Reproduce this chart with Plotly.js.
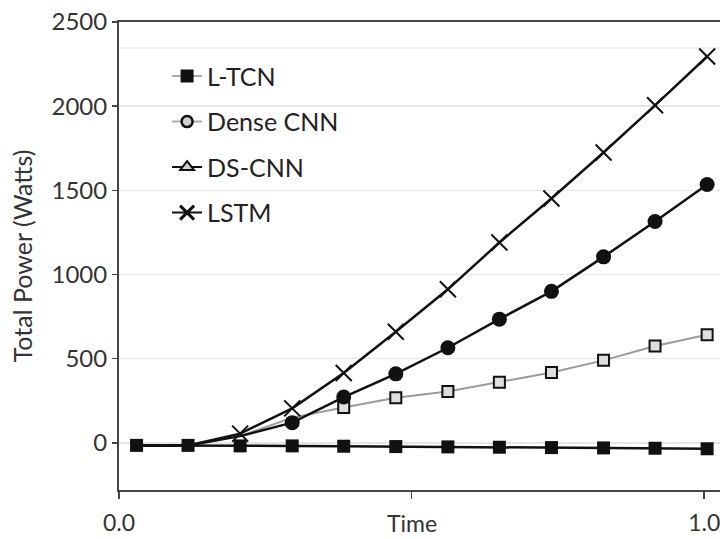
<!DOCTYPE html>
<html>
<head>
<meta charset="utf-8">
<script src="https://cdn.plot.ly/plotly-3.0.1.min.js"></script>
<style>html,body{margin:0;padding:0;background:#fff;}#chart{width:720px;height:539px;}</style>
</head>
<body>
<div id="chart"></div>
<script>
// Data
const timeSteps = [0.03, 0.118, 0.207, 0.296, 0.384, 0.473, 0.562, 0.650, 0.739, 0.828, 0.916, 1.005];
const ltcnPower = [-15, -15, -18, -18, -20, -22, -24, -26, -28, -30, -32, -35];
const denseCnnPower = [-15, -15, 40, 120, 272, 410, 565, 735, 900, 1105, 1315, 1535];
const dsCnnPower = [null, null, 40, 150, 210, 268, 305, 360, 418, 490, 575, 642];
const lstmPower = [-15, -15, 55, 205, 415, 660, 912, 1190, 1452, 1725, 2005, 2295];
const seriesNames = ["L-TCN", "Dense CNN", "DS-CNN", "LSTM"];
const yTicks = [0, 500, 1000, 1500, 2000, 2500];
const xTickVals = [0, 0.5, 1.0];
const xTickText = ["0.0", "", "1.0"];

const FONT = "Lato, 'Open Sans', sans-serif";
// markers hidden where a series is covered by the flat L-TCN line / the circles
const hideFirst = (arr, n) => arr.map((v, i) => (i < n ? 0 : 1));

const traces = [
  {
    x: timeSteps, y: dsCnnPower, name: seriesNames[2], mode: "lines+markers",
    line: {color: "#9a9a9a", width: 2},
    marker: {symbol: "square", size: 11, color: "#dedede", opacity: hideFirst(dsCnnPower, 4), line: {color: "#111", width: 2}},
    showlegend: false, legendgroup: "g3"
  },
  {
    x: timeSteps, y: lstmPower, name: seriesNames[3], mode: "lines+markers",
    line: {color: "#111", width: 2.5},
    marker: {symbol: "x-thin-open", size: 16, color: "#111", opacity: hideFirst(lstmPower, 2), line: {color: "#111", width: 2}},
    showlegend: false, legendgroup: "g4"
  },
  {
    x: timeSteps, y: denseCnnPower, name: seriesNames[1], mode: "lines+markers",
    line: {color: "#111", width: 2.5},
    marker: {symbol: "circle", size: 15, color: "#111", opacity: hideFirst(denseCnnPower, 3)},
    showlegend: false, legendgroup: "g2"
  },
  {
    x: timeSteps, y: ltcnPower, name: seriesNames[0], mode: "lines+markers",
    line: {color: "#111", width: 2.5},
    marker: {symbol: "square", size: 13, color: "#111"},
    showlegend: false, legendgroup: "g1"
  },
  // legend entries (styled as in the reference legend)
  {
    x: [null], y: [null], name: seriesNames[0], mode: "lines+markers", legendgroup: "g1",
    line: {color: "#aaaaaa", width: 2},
    marker: {symbol: "square", size: 13, color: "#111"}
  },
  {
    x: [null], y: [null], name: seriesNames[1], mode: "lines+markers", legendgroup: "g2",
    line: {color: "#aaaaaa", width: 2},
    marker: {symbol: "circle", size: 11, color: "#d0d0d0", line: {color: "#111", width: 2.5}}
  },
  {
    x: [null], y: [null], name: seriesNames[2], mode: "lines+markers", legendgroup: "g3",
    line: {color: "#111", width: 2},
    marker: {symbol: "triangle-up", size: 12, color: "#d0d0d0", line: {color: "#111", width: 2}}
  },
  {
    x: [null], y: [null], name: seriesNames[3], mode: "lines+markers", legendgroup: "g4",
    line: {color: "#111", width: 2},
    marker: {symbol: "x-thin-open", size: 14, color: "#111", line: {color: "#111", width: 3}}
  }
];

const layout = {
  width: 720, height: 539,
  margin: {l: 119, r: 0, t: 22, b: 49, pad: 0},
  paper_bgcolor: "#ffffff", plot_bgcolor: "#ffffff",
  font: {family: FONT, size: 24, color: "#222"},
  showlegend: true,
  legend: {
    x: 0.08, y: 0.933, xanchor: "left", yanchor: "top",
    bgcolor: "rgba(255,255,255,0)", borderwidth: 0,
    font: {family: FONT, size: 25, color: "#222"},
    traceorder: "grouped", tracegroupgap: 10
  },
  xaxis: {
    range: [0, 1.027], tickvals: xTickVals, ticktext: xTickText,
    ticks: "outside", ticklen: 7, tickwidth: 1.5, tickcolor: "#444",
    ticklabelstandoff: 4, ticklabeloverflow: "allow",
    showgrid: false, zeroline: false,
    showline: true, linecolor: "#444", linewidth: 2, mirror: true,
    tickfont: {family: FONT, size: 23, color: "#333"}
  },
  yaxis: {
    range: [-280, 2500], tickvals: yTicks,
    ticks: "outside", ticklen: 5, tickwidth: 1.5, tickcolor: "#444",
    ticklabelstandoff: 0,
    showgrid: true, gridcolor: "#e6e6e6", gridwidth: 1.5, zeroline: false,
    showline: true, linecolor: "#444", linewidth: 2,
    tickfont: {family: FONT, size: 24, color: "#333"},
    title: {text: "Total Power (Watts)", font: {family: FONT, size: 25, color: "#333"}, standoff: 12}
  },
  shapes: [
    {type: "line", xref: "paper", x0: 0, x1: 1, yref: "y", y0: 2345, y1: 2345, line: {color: "#ececec", width: 1.5}, layer: "below"}
  ],
  annotations: [
    {text: "Time", xref: "x", x: 0.5, yref: "paper", y: 0, yshift: -33, showarrow: false,
     xanchor: "center", yanchor: "middle", font: {family: FONT, size: 23, color: "#333"}}
  ]
};

Plotly.newPlot("chart", traces, layout, {staticPlot: true, displayModeBar: false});
</script>
</body>
</html>
